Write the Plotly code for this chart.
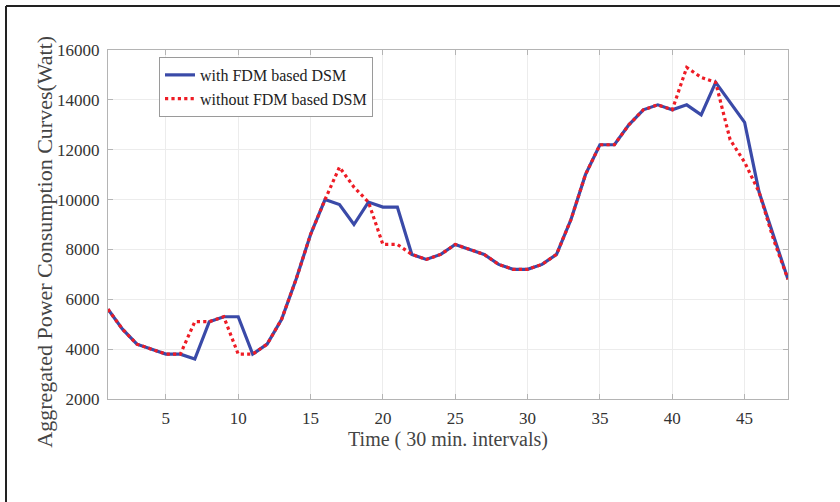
import plotly.graph_objects as go

intervals = list(range(1, 49))
with_fdm = [5600, 4800, 4200, 4000, 3800, 3800, 3600, 5100, 5300, 5300,
            3800, 4200, 5200, 6800, 8600, 10000, 9800, 9000, 9900, 9700,
            9700, 7800, 7600, 7800, 8200, 8000, 7800, 7400, 7200, 7200,
            7400, 7800, 9200, 11000, 12200, 12200, 13000, 13600, 13800, 13600,
            13800, 13400, 14700, 13900, 13100, 10300, 8500, 6800]
without_fdm = [5600, 4800, 4200, 4000, 3800, 3800, 5100, 5100, 5300, 3800,
               3800, 4200, 5200, 6800, 8600, 10000, 11300, 10500, 9900, 8200,
               8200, 7800, 7600, 7800, 8200, 8000, 7800, 7400, 7200, 7200,
               7400, 7800, 9200, 11000, 12200, 12200, 13000, 13600, 13800, 13600,
               15300, 14900, 14700, 12400, 11500, 10300, 8400, 6800]
x_ticks = [5, 10, 15, 20, 25, 30, 35, 40, 45]
y_ticks = [2000, 4000, 6000, 8000, 10000, 12000, 14000, 16000]
y_tick_labels = ["2000", "4000", "6000", "8000", "10000", "12000", "14000", "16000"]

FONT = "Liberation Serif, Times New Roman, serif"

fig = go.Figure()
fig.add_trace(go.Scatter(x=intervals, y=with_fdm, mode="lines",
                         name="with FDM based DSM",
                         line=dict(color="#3a4aa8", width=3.2)))
fig.add_trace(go.Scatter(x=intervals, y=without_fdm, mode="lines",
                         name="without FDM based DSM",
                         line=dict(color="#ee1c25", width=3.2, dash="dot")))

axis_common = dict(showline=True, linecolor="#b4b4b4", linewidth=1,
                   mirror="ticks", ticks="inside", ticklen=5,
                   tickcolor="#b4b4b4", showgrid=True, gridcolor="#ececec",
                   gridwidth=1, zeroline=False,
                   tickfont=dict(family=FONT, size=17, color="#333333"))

fig.update_xaxes(range=[1, 48], tickvals=x_ticks, ticklabelstandoff=4,
                 title=dict(text="Time ( 30 min. intervals)",
                            font=dict(family=FONT, size=20, color="#444444"),
                            standoff=4),
                 **axis_common)
fig.update_yaxes(range=[2000, 16000], tickvals=y_ticks, ticktext=y_tick_labels,
                 ticklabelstandoff=4, **axis_common)

fig.add_annotation(text="Aggregated Power Consumption Curves(Watt)",
                   xref="paper", yref="paper", x=-0.093, y=0.45,
                   textangle=-90, showarrow=False,
                   font=dict(family=FONT, size=22, color="#444444"),
                   xanchor="center", yanchor="middle")

# outer frame (top and left edges)
fig.add_shape(type="line", xref="paper", yref="paper", x0=-0.15, x1=1.08,
              y0=1.126, y1=1.126, line=dict(color="#222222", width=2))
fig.add_shape(type="line", xref="paper", yref="paper", x0=-0.15, x1=-0.15,
              y0=1.126, y1=-0.30, line=dict(color="#222222", width=2))

fig.update_layout(
    width=840, height=502,
    margin=dict(l=108, r=52, t=50, b=103),
    paper_bgcolor="white", plot_bgcolor="white",
    showlegend=True,
    legend=dict(x=0.075, y=0.98, xanchor="left", yanchor="top",
                bgcolor="white", bordercolor="#9a9a9a", borderwidth=1,
                font=dict(family=FONT, size=16, color="#222222"),
                itemwidth=30, tracegroupgap=0),
)

fig.write_html("out.html",
               config={"displayModeBar": False},
               post_script="document.body.style.margin='0';")
